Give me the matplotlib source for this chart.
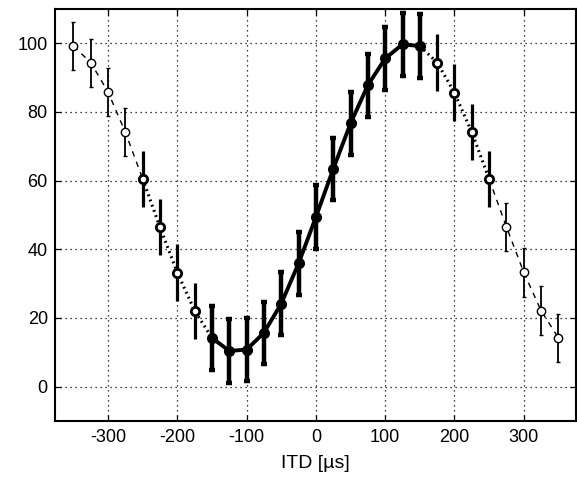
import numpy as np
import matplotlib.pyplot as plt

plt.rcParams['font.family'] = ['Liberation Sans', 'DejaVu Sans']
plt.rcParams['axes.unicode_minus'] = False

# ITD values (microseconds) and response (%)
itd = [-350, -325, -300, -275, -250, -225, -200, -175, -150, -125, -100, -75, -50, -25,
       0, 25, 50, 75, 100, 125, 150, 175, 200, 225, 250, 275, 300, 325, 350]
resp = [99.2, 94.4, 85.8, 74.1, 60.5, 46.4, 33.2, 22.1, 14.2, 10.4, 10.8, 15.7, 24.2, 35.9,
        49.4, 63.4, 76.7, 87.8, 95.6, 99.7, 99.2, 94.4, 85.6, 74.1, 60.5, 46.5, 33.3, 22.1, 14.2]
err = [7.1, 7.0, 7.0, 7.0, 8.1, 8.2, 8.3, 8.1, 9.3, 9.3, 9.2, 9.1, 9.3, 9.2,
       9.2, 9.0, 9.2, 9.2, 9.2, 9.1, 9.2, 8.2, 8.3, 8.2, 8.2, 7.0, 7.1, 7.1, 7.0]

itd = np.array(itd)
resp = np.array(resp)
err = np.array(err)

fig = plt.figure(figsize=(5.77, 4.83), dpi=100)
ax = fig.add_axes([0.0948, 0.1284, 0.903, 0.853])

# index ranges of the three line styles
dash_l = slice(0, 5)     # -350..-250
dot_l = slice(4, 9)      # -250..-150
solid = slice(8, 21)     # -150..150
dot_r = slice(20, 25)    # 150..250
dash_r = slice(24, 29)   # 250..350

# connecting lines
for sl in (dash_l, dash_r):
    ax.plot(itd[sl], resp[sl], color='k', lw=1.0, ls=(0, (4, 4)), zorder=2)
for sl in (dot_l, dot_r):
    ax.plot(itd[sl], resp[sl], color='k', lw=2.2, ls=(0, (0.6, 1.2)), zorder=2)
ax.plot(itd[solid], resp[solid], color='k', lw=2.8, ls='-', zorder=3)

# thin open markers
for sl in (slice(0, 4), slice(25, 29)):
    ax.errorbar(itd[sl], resp[sl], yerr=err[sl], fmt='o', color='k', mfc='white',
                mec='k', ms=6, mew=1.0, elinewidth=1.3, capsize=1.5, capthick=1.3, zorder=4)

# medium open markers
for sl in (slice(4, 8), slice(21, 25)):
    ax.errorbar(itd[sl], resp[sl], yerr=err[sl], fmt='o', color='k', mfc='white',
                mec='k', ms=6, mew=2.0, elinewidth=2.3, capsize=0, zorder=4)

# thick filled markers
ax.errorbar(itd[solid], resp[solid], yerr=err[solid], fmt='o', color='k', mfc='k',
            mec='k', ms=7, elinewidth=3.2, capsize=2.0, capthick=3.2, zorder=5)

ax.set_xlim(-377, 375)
ax.set_ylim(-10, 110)
ax.set_xticks([-300, -200, -100, 0, 100, 200, 300])
ax.set_yticks([0, 20, 40, 60, 80, 100])
ax.grid(True, color='k', ls=(0, (1, 3)), lw=0.9)
ax.tick_params(direction='in', top=True, right=True, labelsize=13, length=4, width=0.9)
ax.tick_params(axis='x', pad=6)
ax.tick_params(axis='y', pad=5)
for s in ax.spines.values():
    s.set_linewidth(1.5)
ax.set_xlabel('ITD [\u00b5s]', fontsize=14, labelpad=6)

fig.savefig('out.png', dpi=100)
